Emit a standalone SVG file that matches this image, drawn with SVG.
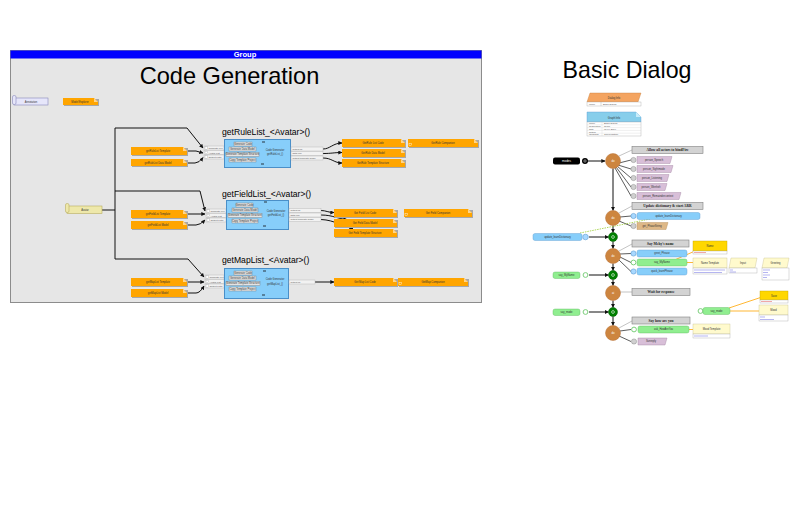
<svg xmlns="http://www.w3.org/2000/svg" width="800" height="532" viewBox="0 0 800 532">
<defs>
<marker id="ar" viewBox="0 0 6 6" refX="5.5" refY="3" markerWidth="4" markerHeight="4" markerUnits="userSpaceOnUse" orient="auto"><path d="M0,0 L6,3 L0,6 Z" fill="#111"/></marker>
<style>
text{font-family:"Liberation Sans",Arial,sans-serif}
.t{font-size:2.6px;fill:#333;text-anchor:middle}
.tl{font-size:2.4px;fill:#555}
.on{fill:#ffa500}
.sh{fill:#a8a8a8}
.fd{fill:#ffd58a}
.bx{fill:#87cefa;stroke:#4a8fc8;stroke-width:1}
.btn{fill:#e4e4e4;stroke:#7a7a7a;stroke-width:.4}
.pt{fill:#f2f2f2;stroke:#b0b0b0;stroke-width:.4}
.pw{fill:#fff;stroke:#999;stroke-width:.3}
.c{fill:none;stroke:#111;stroke-width:1}
.cl{fill:none;stroke:#333;stroke-width:.8}
.cg{fill:none;stroke:#aaa;stroke-width:.7}
.co{fill:none;stroke:#ffa500;stroke-width:.8}
.ttl{font-size:8.6px;fill:#000}
.oc{fill:#cd853f;stroke:#b8733a;stroke-width:.5}
.gc{fill:#008000;stroke:#005a00;stroke-width:.5}
.gl{fill:#d3d3d3;stroke:#808080;stroke-width:.6}
.glt{font-family:"Liberation Serif",serif;font-size:3.6px;font-weight:bold;fill:#222;text-anchor:middle}
.pu{fill:#d8bfd8;stroke:#a080a0;stroke-width:.4}
.bl{fill:#87cefa;stroke:#5a9ad0;stroke-width:.4}
.gr{fill:#90ee90;stroke:#5cb85c;stroke-width:.4}
.tn{fill:#deb887;stroke:#b08850;stroke-width:.4}
.ly{fill:#fffacd;stroke:#c8c090;stroke-width:.4}
.yl{fill:#ffd700;stroke:#c0a000;stroke-width:.4}
.ic{fill:#d0d0d0;stroke:#888;stroke-width:.5}
.icb{fill:#a8d8ff;stroke:#5a9ad0;stroke-width:.6}
.icg{fill:#fff;stroke:#7ccf7c;stroke-width:1}
.tb{fill:#fff;stroke:#aaa;stroke-width:.4}
</style>
</defs>

<g id="group-frame">
<rect x="10.5" y="50.5" width="471" height="252" fill="#e6e6e6" stroke="#8c8c8c"/>
<rect x="10.5" y="50.5" width="471" height="8" fill="#0000ff"/>
<text x="245" y="57.3" font-size="7.5" font-weight="bold" fill="#fff" text-anchor="middle">Group</text>
<text x="229.5" y="84" font-size="23.6" fill="#000" text-anchor="middle">Code Generation</text>
</g>

<g id="title-basic-dialog">
<text x="627" y="78" font-size="23.2" fill="#000" text-anchor="middle">Basic Dialog</text>
</g>

<g id="connectors">
<path class="c" d="M102,210 H115" stroke-width="1.5"/>
<path class="c" d="M115,128 V259"/>
<path class="c" d="M115,128 H187 L203,148" marker-end="url(#ar)"/>
<path class="c" d="M115,191 H200 L205,211" marker-end="url(#ar)"/>
<path class="c" d="M115,259 H188 L204,277" marker-end="url(#ar)"/>
<path class="c" d="M187,151 H196 L203,153" marker-end="url(#ar)"/>
<path class="c" d="M187,163 H195 Q199,163 203,157.5" marker-end="url(#ar)"/>
<path class="c" d="M187,214 H205" marker-end="url(#ar)"/>
<path class="c" d="M187,225 H196 Q200,225 205,220" marker-end="url(#ar)"/>
<path class="c" d="M187,282 H204" marker-end="url(#ar)"/>
<path class="c" d="M187,293 H196 Q200,293 204,286" marker-end="url(#ar)"/>
<path class="c" d="M323,149 C330,149 333,143 342,143" marker-end="url(#ar)"/>
<path class="c" d="M323,153.5 C332,153.5 334,152.5 342,152.5" marker-end="url(#ar)"/>
<path class="c" d="M323,158 C332,158 334,163 342,163" marker-end="url(#ar)"/>
<path class="c" d="M321,210.5 C326,210.5 328,212.5 334,212.5" marker-end="url(#ar)"/>
<path class="c" d="M321,215 C333,215 338,219 347,219.5" marker-end="url(#ar)"/>
<path class="c" d="M321,219.5 C335,220 343,227 353,228.5" marker-end="url(#ar)"/>
<path class="c" d="M315,282 H334" marker-end="url(#ar)"/>

<path class="c" d="M587,161 H605" marker-end="url(#ar)"/>
<path class="cg" d="M619,156 L632,150"/>
<path class="cl" d="M619,163 L631,160"/>
<path class="cl" d="M618,165 L631,169"/>
<path class="cl" d="M617,166 L631,178"/>
<path class="cl" d="M616,167 L631,187"/>
<path class="cl" d="M615,168 L631,196"/>
<path class="c" d="M613,168.5 V210.5" marker-end="url(#ar)"/>
<path class="cg" d="M619,213 L632,206"/>
<path class="cl" d="M620,217 L631,216"/>
<path class="cl" d="M619,221 L631,226"/>
<path class="c" d="M613,225.5 V232.5" marker-end="url(#ar)"/>
<path class="c" d="M613,241.5 V248.5" marker-end="url(#ar)"/>
<path class="cg" d="M619,251 L632,244"/>
<path class="cl" d="M620,254 L631,253.5"/>
<path class="cl" d="M620,257 L631,262.5"/>
<path class="cl" d="M619,260 L631,271.5"/>
<path class="c" d="M613,263.5 V270.5" marker-end="url(#ar)"/>
<path class="c" d="M613,279.5 V285.5" marker-end="url(#ar)"/>
<path class="cg" d="M620,292 L632,292"/>
<path class="c" d="M613,300.5 V307.5" marker-end="url(#ar)"/>
<path class="c" d="M613,316.5 V325.5" marker-end="url(#ar)"/>
<path class="cg" d="M619,328 L632,321"/>
<path class="cl" d="M620,331 L631,329.5"/>
<path class="cl" d="M619,336 L631,341.5"/>
<path class="c" d="M589,237 H608.5" marker-end="url(#ar)"/>
<path class="c" d="M589,275 H608.5" marker-end="url(#ar)"/>
<path class="c" d="M589,312 H608.5" marker-end="url(#ar)"/>
<path d="M580,233 L650,219" fill="none" stroke="#9acd32" stroke-width=".8" stroke-dasharray="1.5,1"/>
<path class="co" d="M670,262 L695,251"/>
<path class="co" d="M687,262.5 H693"/>
<path class="co" d="M729,308 L762,297"/>
<path class="co" d="M730,311 H759"/>
<path class="co" d="M689,329.5 H693"/>
</g>

<g id="annotation">
<rect x="14" y="98" width="34" height="7" fill="#e6e6fa" stroke="#8888bb" stroke-width=".6"/>
<rect x="12.5" y="95.5" width="3.5" height="9" rx="1.5" fill="#e6e6fa" stroke="#8888bb" stroke-width=".6"/>
<text class="t" x="31" y="102.8">Annotation</text>
</g>
<g id="model-explorer">
<polygon class="sh" points="64,99 99,99 99,106 64,106"/>
<polygon class="on" points="63,98 94,98 98,102 98,105 63,105"/>
<polygon class="fd" points="94,98 94,102 98,102"/>
<text class="t" x="80" y="102.7">Model Explorer</text>
</g>
<g id="avatar">
<rect x="67" y="206" width="35" height="7.5" fill="#eee8aa" stroke="#b8ad60" stroke-width=".6"/>
<rect x="65.5" y="203.5" width="3.5" height="9" rx="1.5" fill="#eee8aa" stroke="#b8ad60" stroke-width=".6"/>
<text class="t" x="85" y="211">Avatar</text>
</g>

<g id="rule-template">
<polygon class="sh" points="132,148 188,148 188,156 132,156"/>
<polygon class="on" points="131,147 183,147 187,151 187,155 131,155"/>
<polygon class="fd" points="183,147 183,151 187,151"/>
<text class="t" x="158" y="152">getRuleList Template</text>
</g>
<g id="rule-model">
<polygon class="sh" points="132,160 188,160 188,167 132,167"/>
<polygon class="on" points="131,159 183,159 187,163 187,166 131,166"/>
<polygon class="fd" points="183,159 183,163 187,163"/>
<text class="t" x="158" y="163.7">getRuleList Data Model</text>
</g>
<g id="getRuleList">
<text class="ttl" x="222" y="135">getRuleList_&lt;Avatar&gt;()</text>
<rect class="pt" x="204" y="146" width="20" height="4"/><rect class="pw" x="205" y="146.8" width="2.4" height="2.4"/><text class="tl" x="208.5" y="149">Template File</text>
<rect class="pt" x="204" y="150.5" width="20" height="4"/><rect class="pw" x="205" y="151.3" width="2.4" height="2.4"/><text class="tl" x="208.5" y="153.5">Avatar List</text>
<rect class="pt" x="204" y="155" width="20" height="4"/><rect class="pw" x="205" y="155.8" width="2.4" height="2.4"/><text class="tl" x="208.5" y="158">Output Path</text>
<rect class="bx" x="224.5" y="139.5" width="66" height="28"/>
<rect class="btn" x="234" y="142" width="18" height="4"/><text class="t" x="243" y="144.9">Generate Code</text>
<rect class="btn" x="229" y="147" width="27" height="4"/><text class="t" x="242.5" y="149.9">Generate Data Model</text>
<rect class="btn" x="226" y="152.5" width="33" height="4"/><text class="t" x="242.5" y="155.4">Generate Template Structure</text>
<rect class="btn" x="229" y="158" width="27" height="4"/><text class="t" x="242.5" y="160.9">Copy Template Project</text>
<text class="t" x="275" y="150.5">Code Generator</text>
<text class="t" x="275" y="155">getRuleList_()</text>
<rect x="262" y="141.6" width="3" height=".8" fill="#111"/><rect x="261" y="163.6" width="3" height=".8" fill="#111"/>
<rect class="pt" x="291" y="147" width="32" height="4"/><text class="tl" x="292.5" y="149.9">output.cs</text>
<rect class="pt" x="291" y="151.5" width="32" height="4"/><text class="tl" x="292.5" y="154.4">data.xml</text>
<rect class="pt" x="291" y="156" width="32" height="4"/><text class="tl" x="292.5" y="158.9">output template folder</text>
</g>
<g id="rule-list-code">
<polygon class="sh" points="343,140 406,140 406,148 343,148"/>
<polygon class="on" points="342,139 401,139 405,143 405,147 342,147"/>
<polygon class="fd" points="401,139 401,143 405,143"/>
<text class="t" x="373" y="144">GetRule List Code</text>
</g>
<g id="rule-data-model">
<polygon class="sh" points="343,150 406,150 406,158 343,158"/>
<polygon class="on" points="342,149 401,149 405,153 405,157 342,157"/>
<polygon class="fd" points="401,149 401,153 405,153"/>
<text class="t" x="373" y="154">GetRule Data Model</text>
</g>
<g id="rule-template-structure">
<polygon class="sh" points="343,160 406,160 406,168 343,168"/>
<polygon class="on" points="342,159 401,159 405,163 405,167 342,167"/>
<polygon class="fd" points="401,159 401,163 405,163"/>
<text class="t" x="373" y="164">GetRule Template Structure</text>
</g>
<g id="rule-companion">
<polygon class="sh" points="409,140 479,140 479,148 409,148"/>
<polygon class="on" points="408,139 474,139 478,143 478,147 408,147"/>
<polygon class="fd" points="474,139 474,143 478,143"/>
<rect x="409" y="143.5" width="2.2" height="2.2" fill="none" stroke="#fff" stroke-width=".4"/>
<text class="t" x="443" y="144">GetRule Companion</text>
</g>

<g id="field-template">
<polygon class="sh" points="132,211 188,211 188,219 132,219"/>
<polygon class="on" points="131,210 183,210 187,214 187,218 131,218"/>
<polygon class="fd" points="183,210 183,214 187,214"/>
<text class="t" x="158" y="215">getFieldList Template</text>
</g>
<g id="field-model">
<polygon class="sh" points="132,222 188,222 188,230 132,230"/>
<polygon class="on" points="131,221 183,221 187,225 187,229 131,229"/>
<polygon class="fd" points="183,221 183,225 187,225"/>
<text class="t" x="158" y="226">getFieldList Model</text>
</g>
<g id="getFieldList">
<text class="ttl" x="222" y="197">getFieldList_&lt;Avatar&gt;()</text>
<rect class="pt" x="206" y="209" width="20" height="4"/><rect class="pw" x="207" y="209.8" width="2.4" height="2.4"/><text class="tl" x="210.5" y="212">Template File</text>
<rect class="pt" x="206" y="213.5" width="20" height="4"/><rect class="pw" x="207" y="214.3" width="2.4" height="2.4"/><text class="tl" x="210.5" y="216.5">Avatar List</text>
<rect class="pt" x="206" y="218" width="20" height="4"/><rect class="pw" x="207" y="218.8" width="2.4" height="2.4"/><text class="tl" x="210.5" y="221">Output Path</text>
<rect class="bx" x="226.5" y="200.5" width="62" height="29"/>
<rect class="btn" x="236" y="203" width="17" height="4"/><text class="t" x="244.5" y="205.9">Generate Code</text>
<rect class="btn" x="232" y="208" width="26" height="4"/><text class="t" x="245" y="210.9">Generate Data Model</text>
<rect class="btn" x="228" y="213.5" width="34" height="4"/><text class="t" x="245" y="216.4">Generate Template Structure</text>
<rect class="btn" x="232" y="219" width="26" height="4"/><text class="t" x="245" y="221.9">Copy Template Project</text>
<text class="t" x="276" y="211.5">Code Generator</text>
<text class="t" x="276" y="216">getFieldList_()</text>
<rect x="264" y="201.6" width="3" height=".8" fill="#111"/><rect x="263" y="225.6" width="3" height=".8" fill="#111"/>
<rect class="pt" x="289" y="208.5" width="32" height="4"/><text class="tl" x="290.5" y="211.4">output.cs</text>
<rect class="pt" x="289" y="213" width="32" height="4"/><text class="tl" x="290.5" y="215.9">data.xml</text>
<rect class="pt" x="289" y="217.5" width="32" height="4"/><text class="tl" x="290.5" y="220.4">output template folder</text>
</g>
<g id="field-list-code">
<polygon class="sh" points="335,210 398,210 398,218 335,218"/>
<polygon class="on" points="334,209 393,209 397,213 397,217 334,217"/>
<polygon class="fd" points="393,209 393,213 397,213"/>
<text class="t" x="365" y="214">Get Field List Code</text>
</g>
<g id="field-data-model">
<polygon class="sh" points="335,220 398,220 398,228 335,228"/>
<polygon class="on" points="334,219 393,219 397,223 397,227 334,227"/>
<polygon class="fd" points="393,219 393,223 397,223"/>
<text class="t" x="365" y="224">Get Field Data Model</text>
</g>
<g id="field-template-structure">
<polygon class="sh" points="335,230 398,230 398,238 335,238"/>
<polygon class="on" points="334,229 393,229 397,233 397,237 334,237"/>
<polygon class="fd" points="393,229 393,233 397,233"/>
<text class="t" x="365" y="234">Get Field Template Structure</text>
</g>
<g id="field-companion">
<polygon class="sh" points="405,210 473,210 473,218 405,218"/>
<polygon class="on" points="404,209 468,209 472,213 472,217 404,217"/>
<polygon class="fd" points="468,209 468,213 472,213"/>
<rect x="405" y="213.5" width="2.2" height="2.2" fill="none" stroke="#fff" stroke-width=".4"/>
<text class="t" x="438" y="214">Get Field Companion</text>
</g>

<g id="map-template">
<polygon class="sh" points="132,279 188,279 188,287 132,287"/>
<polygon class="on" points="131,278 183,278 187,282 187,286 131,286"/>
<polygon class="fd" points="183,278 183,282 187,282"/>
<text class="t" x="158" y="283">getMapList Template</text>
</g>
<g id="map-model">
<polygon class="sh" points="132,290 188,290 188,298 132,298"/>
<polygon class="on" points="131,289 183,289 187,293 187,297 131,297"/>
<polygon class="fd" points="183,289 183,293 187,293"/>
<text class="t" x="158" y="294">getMapList Model</text>
</g>
<g id="getMapList">
<text class="ttl" x="222" y="263">getMapList_&lt;Avatar&gt;()</text>
<rect class="pt" x="205" y="275" width="19" height="4"/><rect class="pw" x="206" y="275.8" width="2.4" height="2.4"/><text class="tl" x="209.5" y="278">Template File</text>
<rect class="pt" x="205" y="279.5" width="19" height="4"/><rect class="pw" x="206" y="280.3" width="2.4" height="2.4"/><text class="tl" x="209.5" y="282.5">Avatar List</text>
<rect class="pt" x="205" y="284" width="19" height="4"/><rect class="pw" x="206" y="284.8" width="2.4" height="2.4"/><text class="tl" x="209.5" y="287">Output Path</text>
<rect class="bx" x="224.5" y="268.5" width="64" height="30"/>
<rect class="btn" x="234" y="271" width="18" height="4"/><text class="t" x="243" y="273.9">Generate Code</text>
<rect class="btn" x="229" y="276" width="27" height="4"/><text class="t" x="242.5" y="278.9">Generate Data Model</text>
<rect class="btn" x="226" y="281.5" width="34" height="4"/><text class="t" x="243" y="284.4">Generate Template Structure</text>
<rect class="btn" x="229" y="287" width="27" height="4"/><text class="t" x="242.5" y="289.9">Copy Template Project</text>
<text class="t" x="275" y="280">Code Generator</text>
<text class="t" x="275" y="284.5">getMapList_()</text>
<rect x="263" y="270.6" width="3" height=".8" fill="#111"/><rect x="262" y="294.6" width="3" height=".8" fill="#111"/>
<rect class="pt" x="289" y="280" width="26" height="4"/><text class="tl" x="290.5" y="282.9">output.cs</text>
</g>
<g id="map-list-code">
<polygon class="sh" points="335,279 398,279 398,287 335,287"/>
<polygon class="on" points="334,278 393,278 397,282 397,286 334,286"/>
<polygon class="fd" points="393,278 393,282 397,282"/>
<text class="t" x="365" y="283">Get Map List Code</text>
</g>
<g id="map-companion">
<polygon class="sh" points="399,279 469,279 469,287 399,287"/>
<polygon class="on" points="398,278 464,278 468,282 468,286 398,286"/>
<polygon class="fd" points="464,278 464,282 468,282"/>
<rect x="399" y="282.5" width="2.2" height="2.2" fill="none" stroke="#fff" stroke-width=".4"/>
<text class="t" x="433" y="283">GetMap Companion</text>
</g>

<g id="dialog-info">
<polygon points="590,93 641,93 638,102 587,102" fill="#f4a460" stroke="#c88040" stroke-width=".4"/>
<text class="t" x="614" y="98.8">Dialog Info</text>
<rect class="tb" x="587" y="102" width="54" height="4"/>
<line x1="601" y1="102" x2="601" y2="106" stroke="#aaa" stroke-width=".4"/>
<text class="tl" x="589" y="105">name</text><text class="tl" x="603" y="105">Basic Dialog</text>
</g>
<g id="graph-info">
<polygon points="587,112 636,112 641,117 641,122 587,122" fill="#87ceeb" stroke="#5a9ad0" stroke-width=".4"/>
<polygon points="636,112 636,117 641,117" fill="#c8ecfa"/>
<text class="t" x="614" y="118.5">Graph Info</text>
<rect class="tb" x="587" y="122" width="54" height="14"/>
<g stroke="#ccc" stroke-width=".3"><line x1="587" y1="124.8" x2="641" y2="124.8"/><line x1="587" y1="127.6" x2="641" y2="127.6"/><line x1="587" y1="130.4" x2="641" y2="130.4"/><line x1="587" y1="133.2" x2="641" y2="133.2"/><line x1="602" y1="122" x2="602" y2="136"/></g>
<g class="tl" font-size="2.1"><text x="589" y="124.2">name</text><text x="589" y="127">description</text><text x="589" y="129.8">date</text><text x="589" y="132.6">author</text><text x="589" y="135.4">language</text>
<text x="604" y="124.2">Basic Dialog</text><text x="604" y="127">demo</text><text x="604" y="129.8">01.04.2019</text><text x="604" y="135.4">Conversation</text></g>
</g>

<g id="start">
<rect x="553" y="157.5" width="27" height="7" rx="2" fill="#000"/>
<text x="566.5" y="162.2" font-size="3" fill="#fff" text-anchor="middle">modes</text>
<circle cx="585" cy="161" r="3" fill="#000"/>
<circle cx="585" cy="161" r="1.2" fill="none" stroke="#fff" stroke-width=".5"/>
</g>

<g id="step-allow">
<circle class="oc" cx="613" cy="161" r="7.5"/>
<text x="613" y="162" font-size="2.8" fill="#fff" text-anchor="middle">do</text>
</g>
<g id="label-allow"><rect class="gl" x="632" y="146.5" width="71" height="7"/><text class="glt" x="667.5" y="151.3">Allow all actors to bindFire</text></g>
<g id="p1"><circle class="ic" cx="633.5" cy="160" r="2.6"/><polygon class="pu" points="637,156.5 672,156.5 670,163.5 637,163.5"/><text class="t" x="654" y="160.9">person_Speech</text></g>
<g id="p2"><circle class="ic" cx="633.5" cy="169" r="2.6"/><polygon class="pu" points="637,165.5 673,165.5 671,172.5 637,172.5"/><text class="t" x="654" y="169.9">person_Sightmode</text></g>
<g id="p3"><circle class="ic" cx="633.5" cy="178" r="2.6"/><polygon class="pu" points="637,174.5 669,174.5 667,181.5 637,181.5"/><text class="t" x="652" y="178.9">person_Listening</text></g>
<g id="p4"><circle class="ic" cx="633.5" cy="187" r="2.6"/><polygon class="pu" points="637,183.5 667,183.5 665,190.5 637,190.5"/><text class="t" x="651" y="187.9">person_Wenhelt</text></g>
<g id="p5"><circle class="ic" cx="633.5" cy="196" r="2.6"/><polygon class="pu" points="637,192.5 681,192.5 679,199.5 637,199.5"/><text class="t" x="658" y="196.9">person_Remaindercontext</text></g>

<g id="step-update">
<circle class="oc" cx="613" cy="218" r="7.5"/>
<text x="613" y="219" font-size="2.8" fill="#fff" text-anchor="middle">do</text>
</g>
<g id="label-update"><rect class="gl" x="632" y="202.5" width="71" height="7"/><text class="glt" x="667.5" y="207.3">Update dictionary &amp; start ARR</text></g>
<g id="update-learn"><circle class="icb" cx="633.5" cy="216" r="2.6"/><rect class="bl" x="637" y="212.5" width="63" height="7" rx="2"/><text class="t" x="668.5" y="216.9">update_learnDictionary</text></g>
<g id="get-phase"><circle class="ic" cx="633.5" cy="226" r="2.6"/><polygon class="tn" points="637,222.5 668,222.5 666,229.5 637,229.5"/><text class="t" x="652" y="226.9">get_PhaseString</text></g>

<g id="in-update"><rect class="bl" x="533" y="233.5" width="49" height="7" rx="2"/><text class="t" x="557.5" y="237.9">update_learnDictionary</text><circle class="icb" cx="585.5" cy="237" r="2.8"/></g>
<g id="join-1"><circle class="gc" cx="613" cy="237" r="4.5"/><circle cx="613" cy="237" r="1.4" fill="none" stroke="#fff" stroke-width=".6"/></g>

<g id="step-say-name">
<circle class="oc" cx="613" cy="256" r="7.5"/>
<text x="613" y="257" font-size="2.8" fill="#fff" text-anchor="middle">do</text>
</g>
<g id="label-say-name"><rect class="gl" x="632" y="240" width="57" height="7"/><text class="glt" x="660.5" y="244.8">Say Mehy's name</text></g>
<g id="greet"><circle class="icb" cx="633.5" cy="253.5" r="2.6"/><rect class="bl" x="637" y="250" width="50" height="7" rx="2"/><text class="t" x="662" y="254.4">greet_Phrase</text></g>
<g id="say-myname"><circle class="icg" cx="633.5" cy="262.5" r="2.4"/><rect class="gr" x="637" y="259" width="50" height="7" rx="2"/><text class="t" x="662" y="263.4">say_MyName</text></g>
<g id="quick-learn"><circle class="icb" cx="633.5" cy="271.5" r="2.6"/><rect class="bl" x="637" y="268" width="50" height="7" rx="2"/><text class="t" x="662" y="272.4">quick_learnPhrase</text></g>
<g id="name"><rect class="yl" x="693" y="241" width="34" height="10"/><rect class="tb" x="693" y="251" width="34" height="3"/><line x1="694" y1="252.5" x2="706" y2="252.5" stroke="#e05050" stroke-width=".5"/><text class="t" x="710" y="247">Name</text></g>
<g id="name-template"><rect class="ly" x="693" y="258" width="34" height="10"/><rect class="tb" x="693" y="268" width="34" height="6"/><line x1="694" y1="270" x2="725" y2="270" stroke="#6a6ae0" stroke-width=".5"/><line x1="694" y1="272.5" x2="722" y2="272.5" stroke="#6a6ae0" stroke-width=".5"/><text class="t" x="710" y="264">Name Template</text></g>
<g id="input"><polygon class="ly" points="731,258 757,258 755,268 729,268"/><rect class="tb" x="729" y="268" width="28" height="5"/><line x1="730" y1="270" x2="733" y2="270" stroke="#6a6ae0" stroke-width=".5"/><line x1="730" y1="272" x2="736" y2="272" stroke="#6a6ae0" stroke-width=".5"/><text class="t" x="743" y="264">Input</text></g>
<g id="greeting"><polygon class="ly" points="764,258 789,258 787,268 762,268"/><rect class="tb" x="762" y="268" width="27" height="12"/><g stroke="#6a6ae0" stroke-width=".5"><line x1="763" y1="270" x2="770" y2="270"/><line x1="763" y1="272.5" x2="768" y2="272.5"/><line x1="763" y1="275" x2="770" y2="275"/><line x1="763" y1="277.5" x2="767" y2="277.5"/></g><text class="t" x="775.5" y="264">Greeting</text></g>

<g id="in-say-myname"><rect class="gr" x="553" y="272" width="27" height="6.5" rx="2"/><text class="t" x="566.5" y="276.2">say_MyName</text><circle class="icg" cx="585.5" cy="275" r="2.4"/></g>
<g id="join-2"><circle class="gc" cx="613" cy="275" r="4.5"/><circle cx="613" cy="275" r="1.4" fill="none" stroke="#fff" stroke-width=".6"/></g>

<g id="step-wait">
<circle class="oc" cx="613" cy="293" r="7.5"/>
<text x="613" y="294" font-size="2.8" fill="#fff" text-anchor="middle">ai</text>
</g>
<g id="label-wait"><rect class="gl" x="632" y="288.5" width="58" height="7"/><text class="glt" x="661" y="293.3">Wait for response</text></g>

<g id="in-say-mode"><rect class="gr" x="553" y="309" width="27" height="6.5" rx="2"/><text class="t" x="566.5" y="313.2">say_mode</text><circle class="icg" cx="585.5" cy="312" r="2.4"/></g>
<g id="join-3"><circle class="gc" cx="613" cy="312" r="4.5"/><circle cx="613" cy="312" r="1.4" fill="none" stroke="#fff" stroke-width=".6"/></g>

<g id="say-mode"><circle class="icg" cx="700.5" cy="311" r="2.4"/><rect class="gr" x="703" y="307.5" width="27" height="7" rx="2"/><text class="t" x="716.5" y="311.9">say_mode</text></g>
<g id="save"><rect class="yl" x="760" y="291" width="28" height="9"/><rect class="tb" x="760" y="300" width="28" height="3"/><line x1="761" y1="301.5" x2="772" y2="301.5" stroke="#e05050" stroke-width=".5"/><text class="t" x="774" y="296.5">Save</text></g>
<g id="mood"><rect class="ly" x="759" y="305" width="29" height="10"/><rect class="tb" x="759" y="315" width="29" height="6"/><line x1="760" y1="317" x2="765" y2="317" stroke="#6a6ae0" stroke-width=".5"/><line x1="760" y1="319.5" x2="774" y2="319.5" stroke="#6a6ae0" stroke-width=".5"/><text class="t" x="773.5" y="311">Mood</text></g>

<g id="step-how">
<circle class="oc" cx="613" cy="333" r="7.5"/>
<text x="613" y="334" font-size="2.8" fill="#fff" text-anchor="middle">do</text>
</g>
<g id="label-how"><rect class="gl" x="632" y="317" width="58" height="7"/><text class="glt" x="661" y="321.8">Say how are you</text></g>
<g id="ask-how"><circle class="icg" cx="634" cy="329.5" r="2.4"/><rect class="gr" x="638" y="326" width="51" height="7" rx="2"/><text class="t" x="663.5" y="330.4">ask_HowAreYou</text></g>
<g id="sunreply"><circle class="ic" cx="634" cy="341.5" r="2.6"/><polygon class="pu" points="638,338 667,338 665,345 638,345"/><text class="t" x="651" y="342.4">Sunreply</text></g>
<g id="mood-template"><rect class="ly" x="693" y="324" width="37" height="10"/><rect class="tb" x="693" y="334" width="37" height="4"/><line x1="694" y1="336" x2="708" y2="336" stroke="#6a6ae0" stroke-width=".5"/><text class="t" x="711.5" y="330">Mood Template</text></g>
</svg>
